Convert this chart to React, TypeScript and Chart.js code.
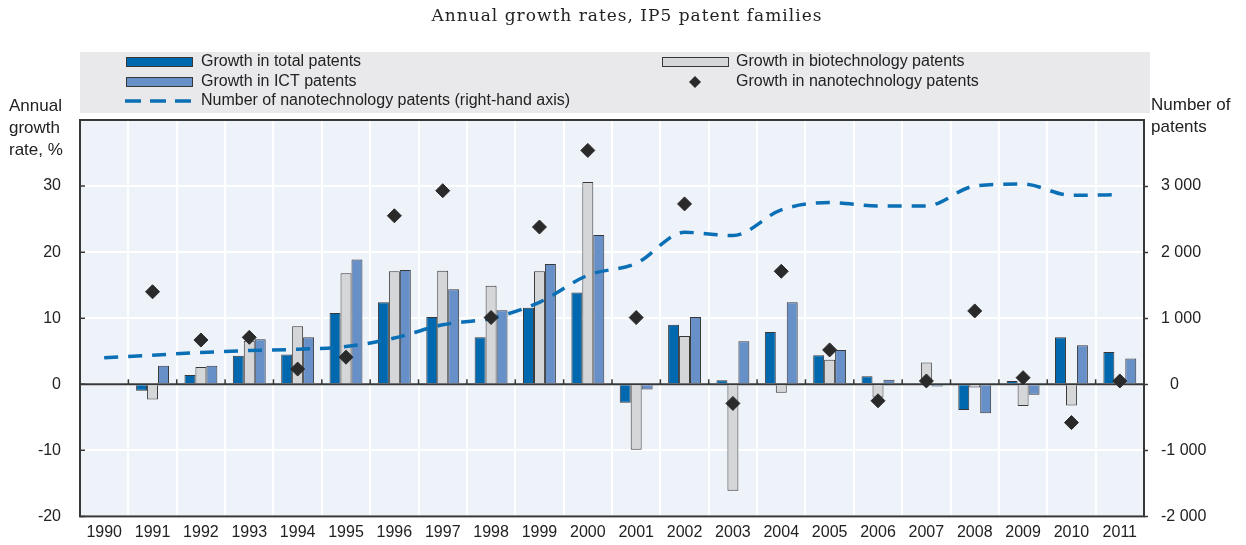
import React, { useEffect, useRef } from 'react';
import { Chart, registerables } from 'chart.js';

Chart.register(...registerables);

const years = ['1990', '1991', '1992', '1993', '1994', '1995', '1996', '1997', '1998', '1999', '2000', '2001', '2002', '2003', '2004', '2005', '2006', '2007', '2008', '2009', '2010', '2011'];
const totalGrowth = [null, -1.0, 1.4, 4.3, 4.5, 10.8, 12.4, 10.2, 7.1, 11.6, 13.9, -2.8, 9.0, 0.6, 7.9, 4.4, 1.2, 0.2, -3.9, 0.5, 7.1, 4.9];
const biotechGrowth = [null, -2.3, 2.6, 6.6, 8.8, 16.8, 17.1, 17.2, 14.9, 17.1, 30.6, -9.9, 7.3, -16.1, -1.3, 3.7, -2.0, 3.3, -0.5, -3.3, -3.2, null];
const ictGrowth = [null, 2.8, 2.8, 6.8, 7.1, 18.9, 17.3, 14.4, 11.2, 18.2, 22.6, -0.8, 10.2, 6.5, 12.4, 5.2, 0.7, -0.35, -4.4, -1.6, 5.9, 3.9];
const nanoGrowth = [null, 14.0, 6.7, 7.1, 2.3, 4.1, 25.5, 29.3, 10.1, 23.8, 35.4, 10.1, 27.3, -2.9, 17.1, 5.2, -2.5, 0.5, 11.1, 1.0, -5.8, 0.5];
const nanoPatents = [400, 440, 480, 510, 530, 570, 700, 900, 1000, 1240, 1650, 1830, 2300, 2250, 2640, 2750, 2700, 2700, 3000, 3030, 2860, 2870];

const leftTicks = [-20, -10, 0, 10, 20, 30];
const rightTicks = [-2000, -1000, 0, 1000, 2000, 3000];

const titleText = 'Annual growth rates, IP5 patent families';
const leftAxisTitle = ['Annual', 'growth', 'rate, %'];
const rightAxisTitle = ['Number of', 'patents'];
const legendLabels = [
  'Growth in total patents',
  'Growth in biotechnology patents',
  'Growth in ICT patents',
  'Growth in nanotechnology patents',
  'Number of nanotechnology patents (right-hand axis)',
];

const C_TOTAL = '#0068AE';
const C_BIO = '#D5D6D8';
const C_ICT = '#6890C8';
const C_DIAMOND = '#2A2A2A';
const C_LINE = '#0A6FB5';
const C_BORDER = '#383838';
const C_TEXT = '#222222';
const SANS = '"Liberation Sans", Arial, sans-serif';

function fmtThousands(v: number): string {
  if (v === 0) return '  0';
  const s = v < 0 ? '-' : '';
  const a = Math.abs(v);
  const th = Math.floor(a / 1000);
  const rest = String(a % 1000).padStart(3, '0');
  return th > 0 ? `${s}${th} ${rest}` : `${s}${a}`;
}

const decoPlugin = {
  id: 'deco',
  beforeDraw(chart: any) {
    const { ctx, chartArea: a } = chart;
    ctx.save();
    ctx.fillStyle = '#EEF2F9';
    ctx.fillRect(a.left, a.top, a.right - a.left, a.bottom - a.top);
    ctx.restore();
  },
  beforeDatasetsDraw(chart: any) {
    const { ctx, chartArea: a, scales } = chart;
    const y0 = scales.y.getPixelForValue(0);
    ctx.save();
    ctx.strokeStyle = C_BORDER;
    ctx.lineWidth = 2;
    ctx.beginPath();
    ctx.moveTo(a.left, y0);
    ctx.lineTo(a.right, y0);
    ctx.stroke();
    const n = years.length;
    const cw = (a.right - a.left) / n;
    ctx.lineWidth = 1.5;
    ctx.beginPath();
    for (let i = 1; i < n; i++) {
      const x = a.left + i * cw;
      ctx.moveTo(x, y0);
      ctx.lineTo(x, y0 - 5);
    }
    ctx.stroke();
    ctx.restore();
  },
  afterDatasetsDraw(chart: any) {
    const { ctx, chartArea: a, scales } = chart;
    ctx.save();
    ctx.strokeStyle = C_BORDER;
    ctx.lineWidth = 2;
    ctx.strokeRect(a.left, a.top, a.right - a.left, a.bottom - a.top);
    ctx.lineWidth = 1.5;
    ctx.beginPath();
    for (const v of leftTicks) {
      const y = scales.y.getPixelForValue(v);
      ctx.moveTo(a.left, y);
      ctx.lineTo(a.left + 5, y);
    }
    ctx.stroke();
    ctx.restore();
  },
  afterDraw(chart: any) {
    const { ctx } = chart;
    ctx.save();
    // title
    ctx.fillStyle = C_TEXT;
    ctx.font = '17px "DejaVu Serif", serif';
    try { (ctx as any).letterSpacing = '1px'; } catch (e) { /* ignore */ }
    ctx.textAlign = 'center';
    ctx.textBaseline = 'middle';
    ctx.fillText(titleText, 627, 17);
    try { (ctx as any).letterSpacing = '0px'; } catch (e) { /* ignore */ }

    // legend box
    ctx.fillStyle = '#E9E9EB';
    ctx.fillRect(80, 52, 1070, 61);

    const rows = [62, 82, 101];
    const drawSwatch = (x: number, y: number, color: string) => {
      ctx.fillStyle = color;
      ctx.fillRect(x, y - 5, 67, 10);
      ctx.strokeStyle = C_BORDER;
      ctx.lineWidth = 1;
      ctx.strokeRect(x + 0.5, y - 4.5, 66, 9);
    };
    drawSwatch(126, rows[0], C_TOTAL);
    drawSwatch(662, rows[0], C_BIO);
    drawSwatch(126, rows[1], C_ICT);
    // diamond
    ctx.fillStyle = C_DIAMOND;
    ctx.beginPath();
    const dx = 695, dy = rows[1];
    ctx.moveTo(dx - 6, dy);
    ctx.lineTo(dx, dy - 6);
    ctx.lineTo(dx + 6, dy);
    ctx.lineTo(dx, dy + 6);
    ctx.closePath();
    ctx.fill();
    // dashed line
    ctx.strokeStyle = C_LINE;
    ctx.lineWidth = 3.5;
    ctx.setLineDash([16, 9]);
    ctx.beginPath();
    ctx.moveTo(125, rows[2]);
    ctx.lineTo(194, rows[2]);
    ctx.stroke();
    ctx.setLineDash([]);

    ctx.fillStyle = C_TEXT;
    ctx.font = `16px ${SANS}`;
    ctx.textAlign = 'left';
    ctx.textBaseline = 'middle';
    ctx.fillText(legendLabels[0], 201, rows[0]);
    ctx.fillText(legendLabels[1], 736, rows[0]);
    ctx.fillText(legendLabels[2], 201, rows[1]);
    ctx.fillText(legendLabels[3], 736, rows[1]);
    ctx.fillText(legendLabels[4], 201, rows[2]);

    // axis titles
    ctx.font = `17px ${SANS}`;
    leftAxisTitle.forEach((t, i) => ctx.fillText(t, 9, 106 + i * 22));
    rightAxisTitle.forEach((t, i) => ctx.fillText(t, 1151, 105 + i * 22));
    ctx.restore();
  },
};

export default function App() {
  const ref = useRef<HTMLCanvasElement>(null);
  useEffect(() => {
    document.body.style.margin = '0';
    const canvas = ref.current!;
    const font = { family: SANS, size: 16 };
    const barCommon = {
      type: 'bar' as const,
      yAxisID: 'y',
      borderColor: C_BORDER,
      borderWidth: 1,
      categoryPercentage: 0.68,
      barPercentage: 1,
      order: 2,
    };
    const chart = new Chart(canvas, {
      type: 'bar',
      data: {
        labels: years,
        datasets: [
          {
            type: 'line',
            label: legendLabels[3],
            data: nanoGrowth,
            yAxisID: 'y',
            showLine: false,
            pointStyle: 'rectRot',
            pointRadius: 7,
            pointBackgroundColor: C_DIAMOND,
            pointBorderColor: C_DIAMOND,
            pointBorderWidth: 1,
            order: 0,
          } as any,
          {
            type: 'line',
            label: legendLabels[4],
            data: nanoPatents,
            yAxisID: 'y1',
            borderColor: C_LINE,
            borderWidth: 3.5,
            borderDash: [14, 10],
            cubicInterpolationMode: 'monotone',
            pointRadius: 0,
            fill: false,
            order: 1,
          } as any,
          { ...barCommon, label: legendLabels[0], data: totalGrowth, backgroundColor: C_TOTAL } as any,
          { ...barCommon, label: legendLabels[1], data: biotechGrowth, backgroundColor: C_BIO } as any,
          { ...barCommon, label: legendLabels[2], data: ictGrowth, backgroundColor: C_ICT } as any,
        ],
      },
      options: {
        responsive: false,
        animation: false,
        layout: { padding: { top: 120, left: 0, right: 0, bottom: 0 } },
        plugins: {
          legend: { display: false },
          title: { display: false },
          tooltip: { enabled: false },
        },
        scales: {
          x: {
            grid: { offset: true, color: '#FFFFFF', lineWidth: 2, drawTicks: false },
            border: { display: false },
            ticks: { font, color: C_TEXT, padding: 7, maxRotation: 0, autoSkip: false },
            afterFit: (s: any) => { s.height = 28; },
          },
          y: {
            position: 'left',
            min: -20,
            max: 40,
            afterBuildTicks: (s: any) => { s.ticks = [...leftTicks, 40].map((v) => ({ value: v })); },
            ticks: {
              font,
              color: C_TEXT,
              padding: 19,
              callback: (v: any) => (v === 40 ? '' : String(v)),
            },
            grid: { color: '#FFFFFF', lineWidth: 2, drawTicks: false },
            border: { display: false },
            afterFit: (s: any) => { s.width = 80; },
          },
          y1: {
            position: 'right',
            min: -2000,
            max: 4000,
            afterBuildTicks: (s: any) => { s.ticks = rightTicks.map((v) => ({ value: v })); },
            ticks: {
              font,
              color: C_TEXT,
              padding: 13,
              crossAlign: 'near',
              callback: (v: any) => fmtThousands(Number(v)),
            },
            grid: { drawOnChartArea: false, drawTicks: true, tickLength: 4, tickColor: C_BORDER, tickWidth: 1.5 },
            border: { display: false },
            afterFit: (s: any) => { s.width = 102; },
          },
        },
      } as any,
      plugins: [decoPlugin],
    });
    return () => chart.destroy();
  }, []);
  return (
    <div style={{ width: 1246, height: 545 }}>
      <canvas ref={ref} width={1246} height={545} style={{ display: 'block' }} />
    </div>
  );
}
